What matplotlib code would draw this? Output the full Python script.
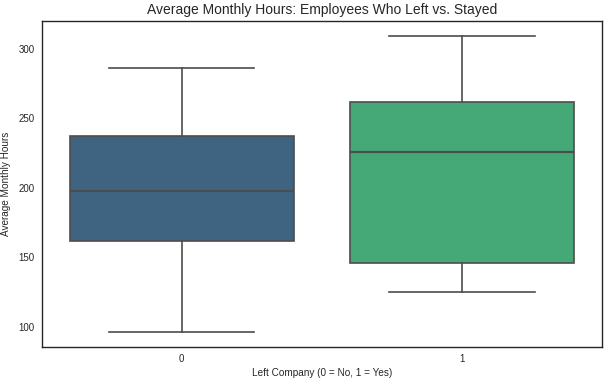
import matplotlib
matplotlib.use("Agg")
import matplotlib.pyplot as plt

# box stats
groups = ["0", "1"]
whislo = [96, 125]
q1 = [161.5, 146]
med = [198, 225.5]
q3 = [237, 261.5]
whishi = [286.5, 309.5]
colors = ["#3e6482", "#45a877"]

plt.rcParams["font.family"] = ["Liberation Sans", "DejaVu Sans"]

stats = []
for i, g in enumerate(groups):
    stats.append({"label": g, "whislo": whislo[i], "q1": q1[i], "med": med[i],
                  "q3": q3[i], "whishi": whishi[i], "fliers": []})

fig = plt.figure(figsize=(6.05, 3.8), dpi=100)
ax = fig.add_axes([0.0686, 0.0868, 0.9264, 0.858])

line_c = "#4d4d4d"
lw = 1.2
bp = ax.bxp(stats, positions=range(len(groups)), widths=0.8, patch_artist=True,
            showfliers=False,
            boxprops=dict(edgecolor=line_c, linewidth=lw),
            medianprops=dict(color=line_c, linewidth=lw * 1.3),
            whiskerprops=dict(color=line_c, linewidth=lw),
            capprops=dict(color=line_c, linewidth=lw))
for patch, c in zip(bp["boxes"], colors):
    patch.set_facecolor(c)
for cap in bp["caps"]:
    x0, x1 = cap.get_xdata()
    mid = (x0 + x1) / 2
    cap.set_xdata([mid - 0.26, mid + 0.26])

ax.set_xlim(-0.5, 1.5)
lo, hi = min(whislo), max(whishi)
pad = (hi - lo) * 0.05
ax.set_ylim(lo - pad, hi + pad)
ax.set_yticks([100, 150, 200, 250, 300])
ax.set_xticks(range(len(groups)))
ax.set_xticklabels(groups)
ax.tick_params(length=0, labelsize=7, colors="#262626", pad=5)
for s in ax.spines.values():
    s.set_color("#262626")
    s.set_linewidth(1.0)

ax.set_title("Average Monthly Hours: Employees Who Left vs. Stayed", fontsize=10, color="#262626", pad=5)
ax.set_xlabel("Left Company (0 = No, 1 = Yes)", fontsize=7.2, color="#262626", labelpad=3)
ax.set_ylabel("Average Monthly Hours", fontsize=7.2, color="#262626", labelpad=5)

fig.savefig("out.png", dpi=100)
